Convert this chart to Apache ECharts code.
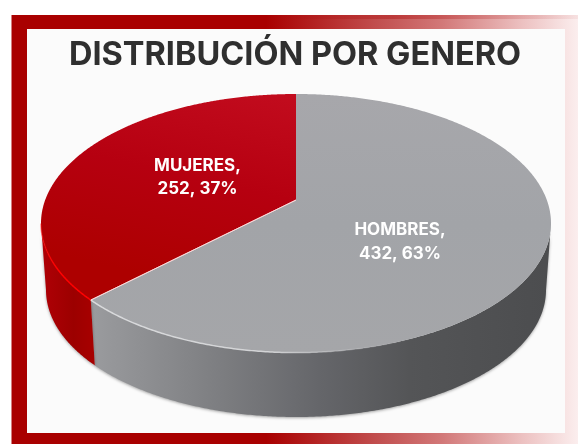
<!DOCTYPE html>
<html>
<head>
<meta charset="utf-8">
<style>html,body{margin:0;padding:0;background:#fff}#c{width:578px;height:444px}</style>
<script src="https://cdn.jsdelivr.net/npm/echarts@6/dist/echarts.min.js"></script>
</head>
<body>
<div id="c"></div>
<script>
const categories = ['HOMBRES', 'MUJERES'];
const values = [432, 252];
const percents = [63, 37];
const titleText = 'DISTRIBUCIÓN POR GENERO';

const topEllipse = {cx: 296, cy: 223.3, rx: 255, ry: 129.3};
const baseEllipse = {cx: 296, cy: 290, rx: 250, ry: 127};
const tilt = -0.14;
const hub = [296, 200];
const labelPos = [[400, 242], [197.5, 177.5]];

function grad(x, y, x2, y2, stops) {
  return {type: 'linear', x, y, x2, y2, global: true,
    colorStops: stops.map(s => ({offset: s[0], color: s[1]}))};
}
const topFill = [
  grad(296, 94, 296, 353, [[0, '#a7a7ab'], [0.5, '#a2a4a8'], [1, '#a5a6a9']]),
  grad(296, 94, 250, 298, [[0, '#c20c1e'], [0.5, '#b60010'], [1, '#ad0000']])
];
const wallFill = [
  grad(92, 0, 546, 0, [[0, '#9a9b9e'], [0.25, '#808184'], [0.5, '#65666a'], [0.7, '#545557'], [1, '#4c4d4f']]),
  grad(41, 0, 95, 0, [[0, '#b00006'], [0.6, '#9c0000'], [1, '#a80000']])
];
const rimStroke = [
  grad(92, 0, 420, 0, [[0, '#d9dadc'], [0.55, 'rgba(215,216,218,0.9)'], [1, 'rgba(160,160,165,0)']]),
  grad(41, 0, 92, 0, [[0, 'rgba(255,0,0,0.45)'], [0.3, '#ff0000'], [1, '#ff0000']])
];

const total = values.reduce((a, b) => a + b, 0);
const starts = values.map((_, i) => values.slice(0, i).reduce((a, b) => a + b, 0));
const toAngle = v => echarts.number.linearMap(v, [0, total], [0, Math.PI * 2]);

function project(theta) {
  const x = Math.sin(theta), y = -Math.cos(theta), d = 1 + tilt * y;
  return [x * Math.sqrt(1 - tilt * tilt) / d, (y + tilt) / d];
}
const onEllipse = (p, e) => [e.cx + p[0] * e.rx, e.cy + p[1] * e.ry];

function renderSlice(params, api) {
  const i = params.dataIndex;
  const a0 = toAngle(api.value(1)), a1 = toAngle(api.value(1) + api.value(0));
  const n = 500, arc = [];
  for (let k = 0; k <= n; k++) arc.push(project(a0 + (a1 - a0) * k / n));
  const front = arc.filter(p => p[1] >= 0);
  const topArc = arc.map(p => onEllipse(p, topEllipse));
  const frontTop = front.map(p => onEllipse(p, topEllipse));
  const frontBase = front.map(p => onEllipse(p, baseEllipse)).reverse();
  const edge = i === 1 ? [topArc[0], hub] : [hub, topArc[topArc.length - 1]];
  return {
    type: 'group',
    children: [
      {type: 'polygon', z2: 1, shape: {points: frontTop.concat(frontBase)},
        style: {fill: wallFill[i], shadowColor: 'rgba(0,0,0,0.35)', shadowBlur: 3, shadowOffsetY: 1}},
      {type: 'polygon', z2: 2, shape: {points: [hub].concat(topArc)}, style: {fill: topFill[i]}},
      {type: 'polyline', z2: 3, shape: {points: frontTop},
        style: {fill: null, stroke: rimStroke[i], lineWidth: 1.5}},
      {type: 'polyline', z2: 3, shape: {points: edge},
        style: {fill: null, stroke: 'rgba(255,225,225,0.75)', lineWidth: 1}},
      {type: 'text', z2: 5, x: labelPos[i][0], y: labelPos[i][1],
        style: {
          text: categories[i] + ',\n' + api.value(0) + ', ' + percents[i] + '%',
          fill: '#ffffff', font: 'bold 17px Inter, Roboto, sans-serif',
          align: 'center', verticalAlign: 'middle', lineHeight: 23.5
        }}
    ]
  };
}

const frameFade = [[0, '#a90000'], [0.45, '#a90000'], [0.65, '#c25050'], [0.76, '#d27878'], [0.9, '#ecc0c0'], [1, '#fbeeee']];
const chart = echarts.init(document.getElementById('c'));
chart.setOption({
  animation: false,
  backgroundColor: '#ffffff',
  title: {
    text: titleText, left: 290, top: 34, textAlign: 'center',
    textStyle: {fontFamily: 'Inter, Roboto, sans-serif', fontWeight: 'bold', fontSize: 32.5, color: '#2f2f2f'}
  },
  graphic: [
    {type: 'rect', z: -10, shape: {x: 11.5, y: 15, width: 567, height: 429},
      style: {fill: grad(11, 0, 578, 0, frameFade)}},
    {type: 'rect', z: -9, shape: {x: 270, y: 15, width: 308, height: 4},
      style: {fill: grad(270, 0, 578, 0, [[0, 'rgba(169,0,0,0)'], [0.4, 'rgba(169,0,0,0.35)'], [1, 'rgba(169,0,0,0.05)']])}},
    {type: 'rect', z: -9, shape: {x: 27, y: 29, width: 538, height: 404}, style: {fill: '#fbfbfb'}}
  ],
  series: [{
    type: 'custom',
    coordinateSystem: 'none',
    renderItem: renderSlice,
    data: values.map((v, i) => ({name: categories[i], value: [v, starts[i]]}))
  }]
});
</script>
</body>
</html>
